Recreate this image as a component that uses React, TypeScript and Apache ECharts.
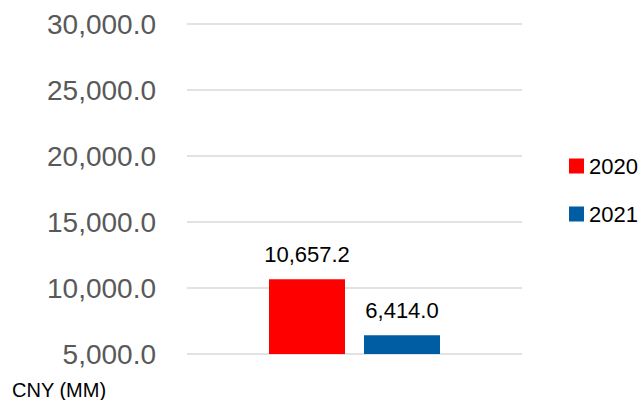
import React, { useEffect, useRef } from "react";
import * as echarts from "echarts";

const categories = ["CNY"];
const seriesNames = ["2020", "2021"];
const values2020 = [10657.2];
const values2021 = [6414.0];
const yTicks = { min: 5000, max: 30000, interval: 5000 };
const unitLabel = "CNY (MM)";

const fmt = (v: number) =>
  v.toLocaleString("en-US", { minimumFractionDigits: 1, maximumFractionDigits: 1 });

export default function App() {
  const ref = useRef<HTMLDivElement>(null);
  useEffect(() => {
    document.body.style.margin = "0";
    const chart = echarts.init(ref.current!, null, { renderer: "svg" });
    const font = "'Liberation Sans', Arial, sans-serif";
    const labelCfg = {
      show: true,
      position: "top" as const,
      distance: 14,
      color: "#000",
      fontSize: 22,
      fontFamily: font,
      formatter: (p: any) => fmt(p.value),
    };
    chart.setOption({
      animation: false,
      backgroundColor: "#fff",
      grid: { left: 187, right: 119, top: 24, bottom: 46 },
      legend: {
        data: seriesNames,
        orient: "vertical",
        left: 564,
        top: 149,
        itemWidth: 15,
        itemHeight: 15,
        itemGap: 24,
        icon: "rect",
        textStyle: { fontSize: 22, lineHeight: 24, color: "#000", fontFamily: font },
      },
      xAxis: {
        type: "category",
        data: categories,
        axisLine: { show: false },
        axisTick: { show: false },
        axisLabel: { show: false },
      },
      yAxis: {
        type: "value",
        min: yTicks.min,
        max: yTicks.max,
        interval: yTicks.interval,
        axisLine: { show: false },
        axisTick: { show: false },
        splitLine: { lineStyle: { color: "#d9d9d9", width: 1.5 } },
        axisLabel: {
          margin: 31,
          fontSize: 28,
          color: "#595959",
          fontFamily: font,
          formatter: (v: number) => fmt(v),
        },
      },
      graphic: [
        {
          type: "text",
          left: 12,
          top: 380,
          style: { text: unitLabel, fontSize: 20, fill: "#000", fontFamily: font },
        },
      ],
      series: [
        {
          name: seriesNames[0],
          type: "bar",
          data: values2020,
          barWidth: 76,
          barGap: "25%",
          itemStyle: { color: "#FF0000" },
          label: labelCfg,
        },
        {
          name: seriesNames[1],
          type: "bar",
          data: values2021,
          barWidth: 76,
          itemStyle: { color: "#005DA4" },
          label: labelCfg,
        },
      ],
    });
    return () => chart.dispose();
  }, []);
  return <div ref={ref} style={{ width: 641, height: 400 }} />;
}
